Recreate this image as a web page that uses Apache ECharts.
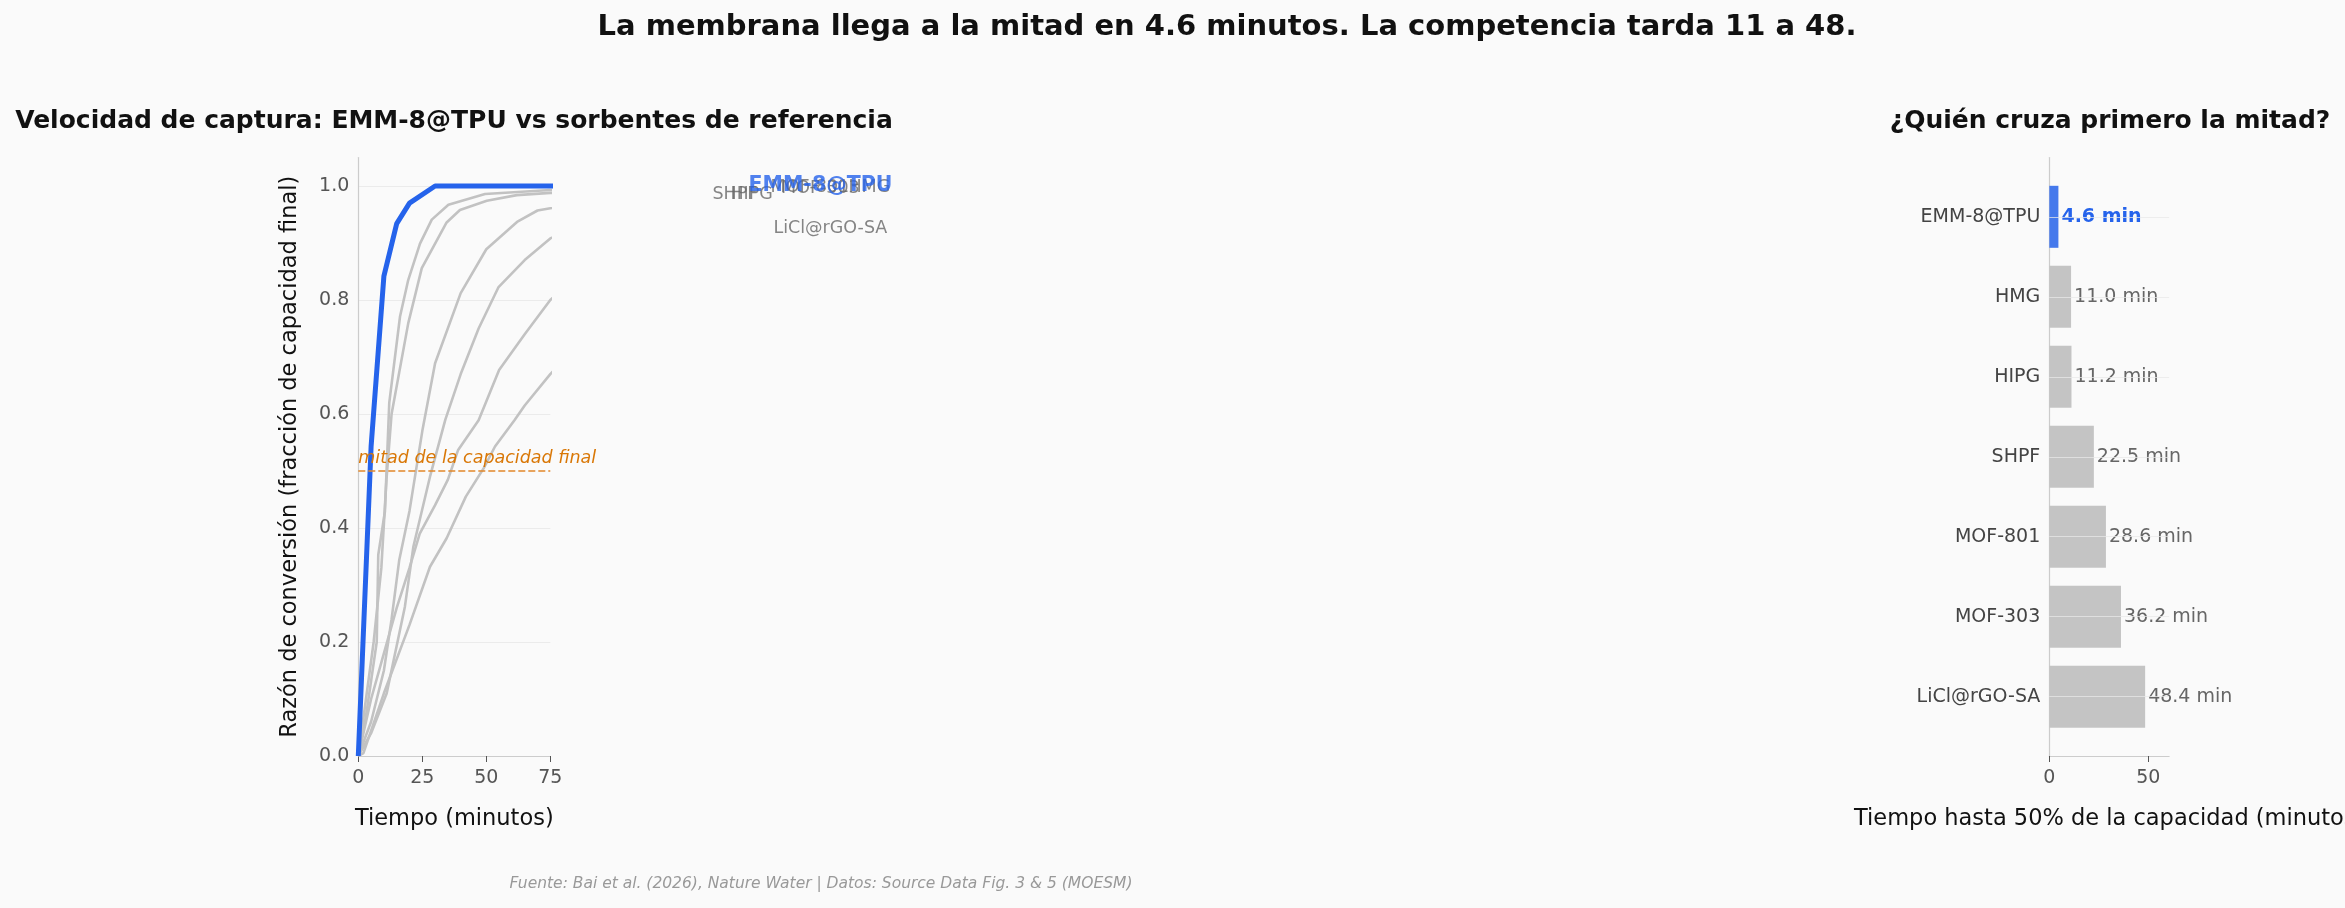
<!DOCTYPE html>
<html><head><meta charset="utf-8">
<script src="https://cdn.jsdelivr.net/npm/echarts@6/dist/echarts.min.js"></script>
<style>html,body{margin:0;padding:0;background:#fafafa;}#c{width:2345px;height:908px;}</style>
</head><body><div id="c"></div>
<script>
const FONT = "'DejaVu Sans', sans-serif";

// ---- Curvas de conversión (tiempo en minutos, fracción de capacidad final) ----
const emmTime  = [0, 5, 10, 15, 20, 30, 45, 60, 90, 120, 150.3];
const emmValue = [0, 0.543, 0.842, 0.934, 0.970, 1.0, 1.0, 1.0, 1.0, 1.0, 1.0];

const hmgTime  = [0, 3, 7.2, 7.8, 10.4, 12.1, 16.3, 19.5, 24.1, 28.7, 35.2, 49.5, 75, 100, 150, 189.3];
const hmgValue = [0, 0.07, 0.2, 0.353, 0.429, 0.62, 0.771, 0.835, 0.899, 0.941, 0.967, 0.986, 0.993, 0.995, 0.997, 0.998];

const hipgTime  = [0, 3, 6, 9, 11, 13, 19.5, 24.8, 34.5, 39.7, 50.2, 61.9, 75, 100, 143.2];
const hipgValue = [0, 0.1, 0.2, 0.33, 0.485, 0.6, 0.759, 0.856, 0.936, 0.958, 0.974, 0.984, 0.988, 0.987, 0.985];

const shpfTime  = [0, 5, 10, 13, 16, 20, 25, 30, 40, 50, 62, 70, 75, 100, 136.2];
const shpfValue = [0, 0.06, 0.15, 0.24, 0.344, 0.43, 0.57, 0.689, 0.812, 0.889, 0.937, 0.957, 0.961, 0.975, 0.985];

const mof801Time  = [0, 5, 11.1, 18.2, 21.5, 28, 34, 40, 47, 54.7, 65, 75, 100, 158.9];
const mof801Value = [0, 0.04, 0.11, 0.262, 0.367, 0.49, 0.59, 0.67, 0.75, 0.822, 0.87, 0.908, 0.96, 0.998];

const mof303Time  = [0, 5, 10, 15, 20, 24, 30, 35, 39, 47, 55, 65, 75, 100, 163];
const mof303Value = [0, 0.1, 0.18, 0.26, 0.33, 0.39, 0.44, 0.485, 0.537, 0.589, 0.677, 0.74, 0.80, 0.9, 0.995];

const liclTime  = [0, 2, 10, 20, 28, 34.5, 42, 49, 53.4, 61, 65, 75, 100, 130, 160];
const liclValue = [0, 0.005, 0.11, 0.23, 0.332, 0.382, 0.455, 0.505, 0.543, 0.589, 0.615, 0.67, 0.78, 0.87, 0.925];

// ---- Tiempo hasta 50 % ----
const barCategories = ['EMM-8@TPU', 'HMG', 'HIPG', 'SHPF', 'MOF-801', 'MOF-303', 'LiCl@rGO-SA'];
const barT50 = [4.6, 11.0, 11.2, 22.5, 28.6, 36.2, 48.4];

const xTicksLeft = [0, 25, 50, 75];
const yTicksLeft = [0, 0.2, 0.4, 0.6, 0.8, 1.0];
const xTicksRight = [0, 50];

const BLUE = '#2563eb';
const GREY = '#c2c2c2';

const greyCurves = [
  ['HMG', hmgTime, hmgValue],
  ['HIPG', hipgTime, hipgValue],
  ['SHPF', shpfTime, shpfValue],
  ['MOF-801', mof801Time, mof801Value],
  ['MOF-303', mof303Time, mof303Value],
  ['LiCl@rGO-SA', liclTime, liclValue]
];
const zip = (t, v) => t.map((x, i) => [x, v[i]]);

const series = [];
greyCurves.forEach(([name, t, v], i) => {
  const s = {
    name, type: 'line', xAxisIndex: 0, yAxisIndex: 0,
    data: zip(t, v), showSymbol: false, symbol: 'none', clip: true,
    lineStyle: {color: GREY, width: 2.6}, z: 2, silent: true
  };
  if (i === 0) {
    s.markLine = {
      silent: true, symbol: 'none',
      lineStyle: {color: 'rgba(225,135,40,0.75)', type: [7, 3], width: 1.8},
      label: {show: true, position: 'insideStartTop', distance: [0, 4],
        formatter: 'mitad de la capacidad final', color: '#d97706', opacity: 1,
        fontStyle: 'italic', fontSize: 17.5, fontFamily: FONT},
      data: [{yAxis: 0.5}]
    };
  }
  series.push(s);
});
series.push({
  name: 'EMM-8@TPU', type: 'line', xAxisIndex: 0, yAxisIndex: 0,
  data: zip(emmTime, emmValue), showSymbol: false, symbol: 'none', clip: true,
  lineStyle: {color: BLUE, width: 5}, z: 3, silent: true
});
// etiquetas al final de cada curva
series.push({
  type: 'scatter', xAxisIndex: 0, yAxisIndex: 0, clip: false, z: 4, silent: true,
  symbolSize: 1, itemStyle: {color: 'rgba(0,0,0,0)'},
  data: greyCurves.map(([name, t, v]) => [t[t.length - 1], v[v.length - 1], name]),
  label: {show: true, position: 'right', distance: 5, formatter: p => p.data[2],
    color: '#666', fontSize: 17.5, fontFamily: FONT}
});
series.push({
  type: 'scatter', xAxisIndex: 0, yAxisIndex: 0, clip: false, z: 5, silent: true,
  symbolSize: 1, itemStyle: {color: 'rgba(0,0,0,0)'},
  data: [[emmTime[emmTime.length - 1], emmValue[emmValue.length - 1], 'EMM-8@TPU']],
  label: {show: true, position: 'right', distance: 5, formatter: p => p.data[2],
    color: BLUE, fontWeight: 'bold', fontSize: 20.5, fontFamily: FONT}
});
// barras
series.push({
  type: 'bar', xAxisIndex: 1, yAxisIndex: 1, barWidth: 62, clip: false, z: 2, silent: true,
  data: barT50.map((v, i) => i === 0 ? {
    value: v, itemStyle: {color: '#4579ec'},
    label: {color: BLUE, fontWeight: 'bold'}
  } : {value: v, itemStyle: {color: '#c4c4c4'}}),
  label: {show: true, position: 'right', distance: 3,
    formatter: p => p.value.toFixed(1) + ' min', color: '#666', fontSize: 19, fontFamily: FONT}
});

const axisLineGrey = {show: true, lineStyle: {color: '#cccccc', width: 1.2}};

const option = {
  backgroundColor: '#fafafa',
  animation: false,
  textStyle: {fontFamily: FONT},
  grid: [
    {left: 358.3, top: 157.5, width: 192, height: 598.5, outerBoundsMode: 'none', containLabel: false},
    {left: 2049.3, top: 216.8, width: 119.8, height: 479.9, outerBoundsMode: 'none', containLabel: false},
    {left: 2049.3, top: 157.5, width: 119.8, height: 598.5, outerBoundsMode: 'none', containLabel: false}
  ],
  xAxis: [
    {gridIndex: 0, type: 'value', min: 0, max: 75, interval: 25,
      axisLine: axisLineGrey,
      axisTick: {show: true, length: 6, lineStyle: {color: '#555'}},
      axisLabel: {customValues: xTicksLeft, color: '#555', fontSize: 19, margin: 13, fontFamily: FONT},
      splitLine: {show: false},
      name: 'Tiempo (minutos)', nameLocation: 'middle', nameGap: 52,
      nameTextStyle: {color: '#111', fontSize: 22.5, fontFamily: FONT}},
    {gridIndex: 1, type: 'value', min: 0, max: 60.5, offset: 59.3,
      axisLine: axisLineGrey,
      axisTick: {show: true, length: 6, customValues: xTicksRight, lineStyle: {color: '#555'}},
      axisLabel: {customValues: xTicksRight, color: '#555', fontSize: 19, margin: 13, fontFamily: FONT},
      splitLine: {show: false},
      name: 'Tiempo hasta 50% de la capacidad (minutos)', nameLocation: 'middle', nameGap: 52,
      nameTextStyle: {color: '#111', fontSize: 22.5, fontFamily: FONT}},
    {gridIndex: 2, type: 'value', min: 0, max: 60.5, show: false}
  ],
  yAxis: [
    {gridIndex: 0, type: 'value', min: 0, max: 1.05, interval: 0.2,
      axisLine: axisLineGrey, axisTick: {show: false},
      axisLabel: {customValues: yTicksLeft, formatter: v => v.toFixed(1), color: '#555',
        fontSize: 19, margin: 9, fontFamily: FONT},
      splitLine: {show: true, showMaxLine: false, showMinLine: false, lineStyle: {color: '#ebebeb', width: 1}},
      name: 'Razón de conversión (fracción de capacidad final)', nameLocation: 'middle', nameGap: 57,
      nameTextStyle: {color: '#111', fontSize: 22.5, fontFamily: FONT}},
    {gridIndex: 1, type: 'category', data: barCategories, inverse: true, boundaryGap: false, z: 5,
      axisLine: {show: false}, axisTick: {show: false},
      axisLabel: {interval: 0, color: '#444', fontSize: 19, margin: 9, fontFamily: FONT},
      splitLine: {show: true, interval: 0, lineStyle: {color: 'rgba(232,232,232,0.75)', width: 1.2}}},
    {gridIndex: 2, type: 'value', min: 0, max: 1,
      axisLine: axisLineGrey, axisTick: {show: false}, axisLabel: {show: false}, splitLine: {show: false}}
  ],
  graphic: [
    {type: 'text', style: {text: 'La membrana llega a la mitad en 4.6 minutos. La competencia tarda 11 a 48.',
      x: 1227, y: 27, align: 'center', verticalAlign: 'middle', textAlign: 'center', textVerticalAlign: 'middle',
      font: "bold 29px 'DejaVu Sans'", fill: '#111'}},
    {type: 'text', style: {text: 'Velocidad de captura: EMM-8@TPU vs sorbentes de referencia',
      x: 454, y: 121, align: 'center', verticalAlign: 'middle', textAlign: 'center', textVerticalAlign: 'middle',
      font: "bold 25px 'DejaVu Sans'", fill: '#111'}},
    {type: 'text', style: {text: '¿Quién cruza primero la mitad?',
      x: 2110, y: 121, align: 'center', verticalAlign: 'middle', textAlign: 'center', textVerticalAlign: 'middle',
      font: "bold 25px 'DejaVu Sans'", fill: '#111'}},
    {type: 'text', style: {text: 'Fuente: Bai et al. (2026), Nature Water | Datos: Source Data Fig. 3 & 5 (MOESM)',
      x: 821, y: 884, align: 'center', verticalAlign: 'middle', textAlign: 'center', textVerticalAlign: 'middle',
      font: "italic 15.5px 'DejaVu Sans'", fill: '#999'}}
  ],
  series
};
const chart = echarts.init(document.getElementById('c'), null, {renderer: 'canvas'});
chart.setOption(option);
</script></body></html>
